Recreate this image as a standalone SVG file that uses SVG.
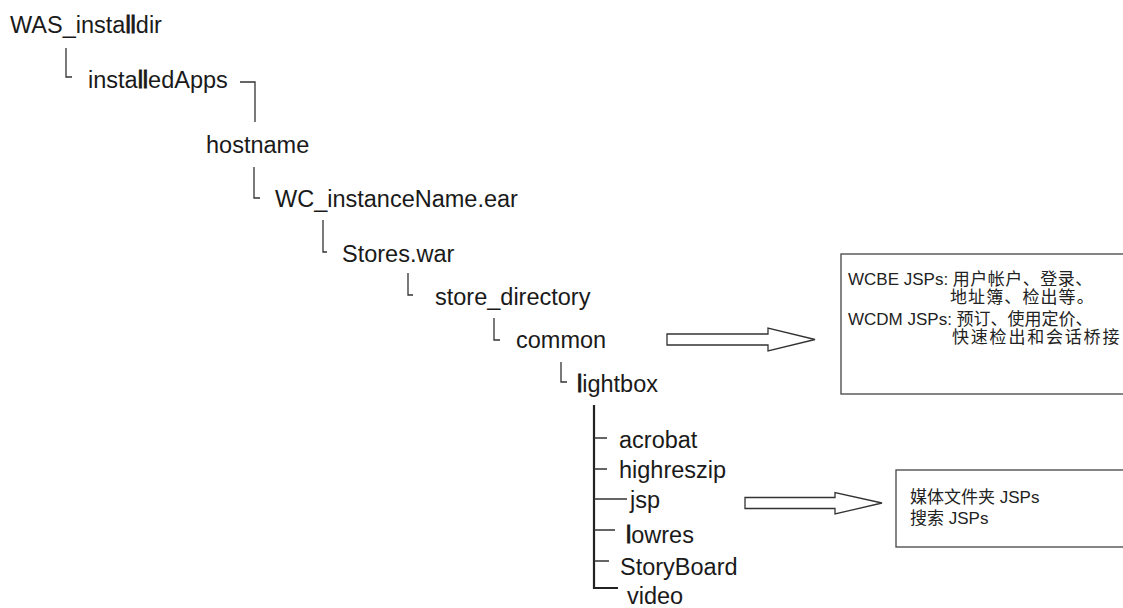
<svg xmlns="http://www.w3.org/2000/svg" width="1123" height="608" viewBox="0 0 1123 608">
<style>
.t{font-family:"Liberation Sans",Arial,sans-serif;font-size:23.5px;fill:#1a1a1a}
.b{stroke:#1a1a1a;stroke-width:0.9}
.c{stroke:#333;stroke-width:1.3;fill:none}
.c2{stroke:#222;stroke-width:2.2;fill:none}
.ar{fill:#fff;stroke:#333;stroke-width:1.3}
.box{fill:#fff;stroke:#444;stroke-width:1.3}
.bt{font-family:"Liberation Sans","Noto Sans CJK SC",sans-serif;font-size:17px;fill:#222}
</style>
<rect width="1123" height="608" fill="#fff"/>
<g id="connectors">
<path class="c" d="M66,48 V77 H72"/>
<path class="c" d="M240,82 H255 V122"/>
<path class="c" d="M254,167 V198 H260"/>
<path class="c" d="M323,220 V252 H327"/>
<path class="c" d="M408,273 V295 H413"/>
<path class="c" d="M494,318 V340 H500"/>
<path class="c" d="M561,362 V382 H567"/>
<path class="c2" d="M594,405 V588 H618"/>
<path class="c" d="M594,438 H607 M594,469 H607 M594,499 H627 M594,530 H615 M594,561 H609"/>
<polygon id="arrow1" class="ar" points="667,334 768,334 768,328 815,339.5 768,351 768,345 667,345"/>
<polygon id="arrow2" class="ar" points="745,497.5 835,497.5 835,492.5 882,503 835,514 835,508.5 745,508.5"/>
</g>
<g id="n-was"><text class="t" x="10" y="33">WAS_insta<tspan class="b">ll</tspan>dir</text></g>
<g id="n-installedApps"><text class="t" x="88" y="88">insta<tspan class="b">ll</tspan>edApps</text></g>
<g id="n-hostname"><text class="t" x="206" y="153">hostname</text></g>
<g id="n-wc"><text class="t" x="275" y="207">WC_instanceName.ear</text></g>
<g id="n-stores"><text class="t" x="342" y="262">Stores.war</text></g>
<g id="n-storedir"><text class="t" x="435" y="305">store_directory</text></g>
<g id="n-common"><text class="t" x="516" y="348">common</text></g>
<g id="n-lightbox"><text class="t" x="577" y="392"><tspan class="b">l</tspan>ightbox</text></g>
<g id="n-acrobat"><text class="t" x="619" y="448">acrobat</text></g>
<g id="n-highreszip"><text class="t" x="619" y="478">highreszip</text></g>
<g id="n-jsp"><text class="t" x="630" y="508">jsp</text></g>
<g id="n-lowres"><text class="t" x="626" y="543"><tspan class="b">l</tspan>owres</text></g>
<g id="n-storyboard"><text class="t" x="620" y="575">StoryBoard</text></g>
<g id="n-video"><text class="t" x="627" y="604">video</text></g>
<g id="n-box1">
<rect class="box" x="841" y="254" width="300" height="140"/>
<text class="bt" x="848" y="285">WCBE JSPs: <tspan letter-spacing="0.5">用户帐户、登录、</tspan></text>
<text class="bt" x="950" y="303" letter-spacing="1.1">地址簿、检出等。</text>
<text class="bt" x="848" y="325">WCDM JSPs: 预订、使用定价、</text>
<text class="bt" x="952" y="343" letter-spacing="1.8">快速检出和会话桥接</text>
</g>
<g id="n-box2">
<rect class="box" x="896" y="470" width="250" height="77"/>
<text class="bt" x="910" y="503">媒体文件夹 JSPs</text>
<text class="bt" x="910" y="524">搜索 JSPs</text>
</g>
</svg>
